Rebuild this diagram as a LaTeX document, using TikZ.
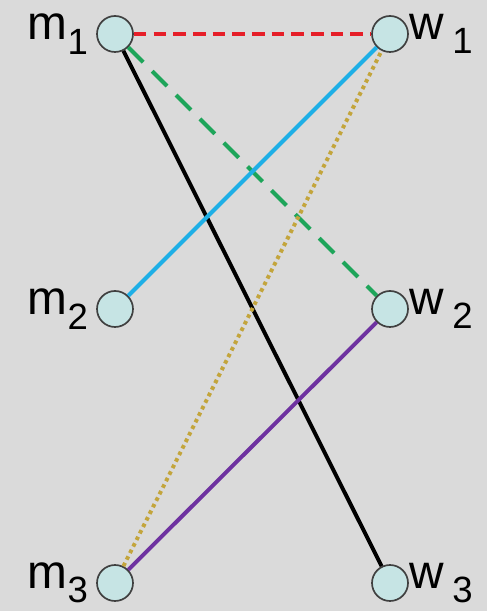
\documentclass[tikz,border=0pt]{standalone}
\usepackage{fontspec}
\setmainfont{Liberation Sans}
\usetikzlibrary{positioning}
\definecolor{bggray}{RGB}{218,218,218}
\definecolor{nodecyan}{RGB}{198,228,228}
\definecolor{matchred}{RGB}{230,30,40}
\definecolor{matchgreen}{RGB}{30,165,90}
\definecolor{matchblue}{RGB}{30,175,230}
\definecolor{matchgold}{RGB}{195,165,60}
\definecolor{matchpurple}{RGB}{110,50,160}
\newcommand{\lowidx}[1]{\raisebox{-0.3em}{\fontsize{26}{26}\selectfont #1}}

\begin{document}
\begin{tikzpicture}[person/.style={circle, draw=black!75, fill=nodecyan, line width=1.2pt, minimum size=0.9cm, inner sep=0pt},
  lab/.style={font=\fontsize{34}{34}\selectfont, inner sep=0pt},
  pair/.style={line width=2.8pt}]
 \fill[bggray] (0,0) rectangle (12.175,15.275);
 \useasboundingbox (0,0) rectangle (12.175,15.275);
 \foreach \i/\y in {1/14.425, 2/7.55, 3/0.7}{
   \node[person, label={[lab, label distance=0.2cm]left:m\lowidx{\i}}] (m\i) at (2.875,\y) {};
   \node[person, label={[lab, label distance=0.02cm]right:w\,\lowidx{\i}}] (w\i) at (9.75,\y) {};
 }
 \draw[pair, matchred, dash pattern=on 9pt off 5pt] (m1) -- (w1);
 \draw[pair, matchgreen, dash pattern=on 15pt off 9pt] (m1) -- (w2);
 \draw[pair, black] (m1) -- (w3);
 \draw[pair, matchblue] (m2) -- (w1);
 \draw[pair, matchgold, dash pattern=on 2.6pt off 2.6pt] (m3) -- (w1);
 \draw[pair, matchpurple] (m3) -- (w2);
\end{tikzpicture}
\end{document}
